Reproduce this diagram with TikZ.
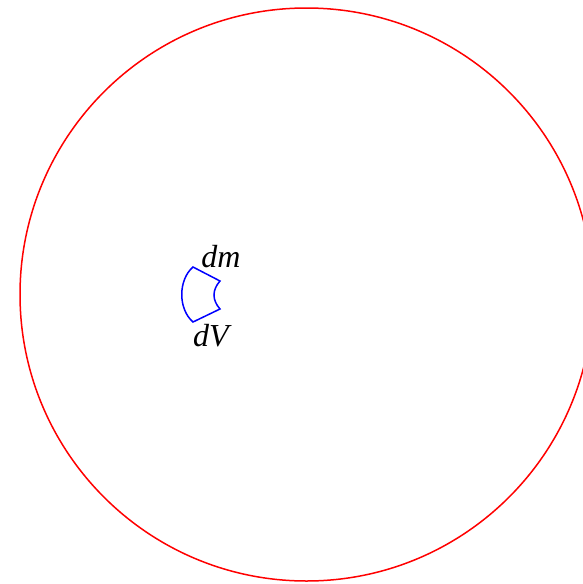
\documentclass[tikz,border=0pt]{standalone}
\usepackage{fontspec}
\setmainfont{Liberation Serif}
\begin{document}
\begin{tikzpicture}[x=1pt,y=-1pt]
    % Frame: 582 x 584, the ball is cut off at the right edge
    \useasboundingbox (0,0) rectangle (582,584);
    \def\ballradius{286.5}

    % The ball
    \draw[red, line width=1.5pt] (306.5,294.5) circle (\ballradius);

    % Volume element (blue)
    \draw[blue, line width=1.5pt]
        (193,267) -- (220,281)
        .. controls (212,290) and (212,300) .. (220,309)
        -- (193,322)
        .. controls (178,309) and (178,280) .. (193,267) -- cycle;

    % Labels
    \node[font=\fontsize{32}{36}\selectfont\itshape] (dm) at (221,257) {dm};
    \node[font=\fontsize{32}{36}\selectfont\itshape] (dV) at (211,336) {dV};
\end{tikzpicture}
\end{document}
